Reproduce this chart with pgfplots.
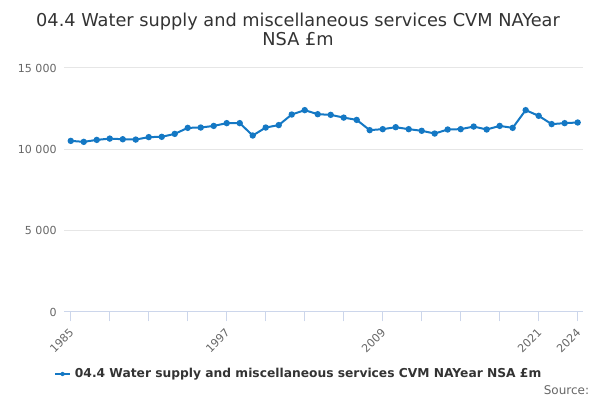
\documentclass[border=0pt]{standalone}
\usepackage{pgfplots}
\pgfplotsset{compat=1.18}
\usepackage{fontspec}
\setmainfont{DejaVu Sans}
\definecolor{series}{HTML}{1478C4}
\definecolor{txt}{HTML}{333333}
\definecolor{tickc}{HTML}{666666}
\definecolor{gridc}{HTML}{E6E6E6}
\definecolor{xaxis}{HTML}{CCD6EB}
\begin{document}
\begin{tikzpicture}[x=1pt,y=1pt]
\path[use as bounding box] (0,0) rectangle (450,300);
\node[text=txt,font=\fontsize{13.3}{14.3}\selectfont,align=center] at (223.5,278) {04.4 Water supply and miscellaneous services CVM NAYear\\NSA £m};
\begin{axis}[
  at={(48pt,66pt)}, anchor=south west,
  scale only axis, width=389.25pt, height=183pt,
  xmin=1984.48, xmax=2024.41, ymin=0, ymax=15000,
  axis line style={draw=none},
  axis x line*=bottom, axis y line*=left,
  ytick={0,5000,10000,15000},
  yticklabels={0,5 000,10 000,15 000},
  scaled y ticks=false,
  ymajorgrids=true, xmajorgrids=false,
  y grid style={draw=gridc, line width=0.75pt},
  major y tick style={draw=none},
  minor y tick style={draw=none},
  xtick={1985,1997,2009,2021,2024},
  xticklabels={1985,1997,2009,2021,2024},
  minor xtick={1988,1991,1994,2000,2003,2006,2012,2015,2018},
  x tick style={draw=xaxis, line width=0.75pt},
  major tick length=7pt, minor tick length=7pt,
  xtick align=outside,
  ticklabel style={text=tickc, font=\fontsize{8.3}{10}\selectfont},
  /pgf/number format/assume math mode=true,
  xticklabel style={rotate=45, anchor=north east, xshift=-0.75pt, yshift=1.5pt},
  yticklabel style={xshift=-2pt},
  clip=false,
]
\draw[xaxis, line width=0.75pt] (axis cs:1984.48,0) -- (axis cs:2024.41,0);
\addplot[series, line width=1.5pt, mark=*, mark size=1.6pt, mark options={fill=series, draw=series}] coordinates {
(1985,10520) (1986,10460) (1987,10580) (1988,10660) (1989,10620) (1990,10600)
(1991,10750) (1992,10770) (1993,10950) (1994,11320) (1995,11340) (1996,11440)
(1997,11610) (1998,11610) (1999,10850) (2000,11340) (2001,11490) (2002,12140)
(2003,12410) (2004,12160) (2005,12120) (2006,11950) (2007,11810) (2008,11180)
(2009,11240) (2010,11360) (2011,11240) (2012,11140) (2013,10970) (2014,11220)
(2015,11240) (2016,11400) (2017,11220) (2018,11440) (2019,11320) (2020,12410)
(2021,12060) (2022,11550) (2023,11610) (2024,11650)
};
\end{axis}
\draw[series, line width=1.5pt] (41.25,19.5) -- (52.5,19.5);
\fill[series] (46.9,19.5) circle (1.6pt);
\node[anchor=west, text=txt, font=\bfseries\fontsize{9.2}{11}\selectfont, inner sep=0pt] at (56,19.5) {04.4 Water supply and miscellaneous services CVM NAYear NSA £m};
\node[anchor=east, text=tickc, font=\fontsize{9}{11}\selectfont, inner sep=0pt] at (442,7.5) {Source:};
\end{tikzpicture}
\end{document}
